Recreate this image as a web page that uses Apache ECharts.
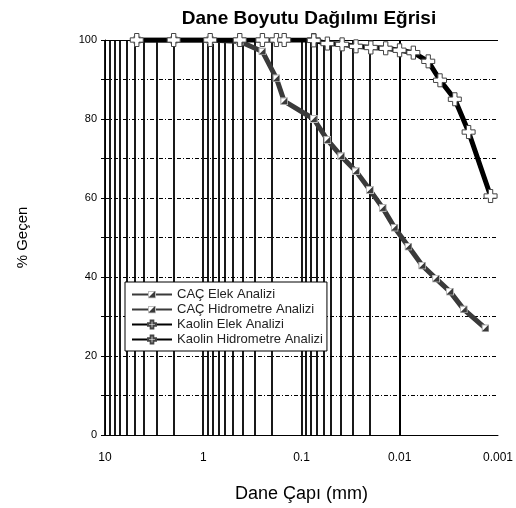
<!DOCTYPE html>
<html>
<head>
<meta charset="utf-8">
<script src="https://cdn.jsdelivr.net/npm/echarts@6/dist/echarts.min.js"></script>
<style>
  html, body { margin: 0; padding: 0; background: #fff; }
  #chart { width: 516px; height: 508px; }
</style>
</head>
<body>
<div id="chart"></div>
<script>
// Grain size distribution curves (particle diameter in mm, percent passing)
const cacSieveD   = [4.75, 2, 0.85, 0.425, 0.25, 0.18, 0.15, 0.075];
const cacSieveP   = [100, 100, 100, 99.6, 97.1, 90.3, 84.5, 80.0];
const cacHydroD   = [0.075, 0.0545, 0.0394, 0.0279, 0.0201, 0.0149, 0.0113, 0.00815, 0.0059, 0.00427, 0.00308, 0.00223, 0.00134];
const cacHydroP   = [80.0, 74.7, 70.6, 66.8, 62.0, 57.5, 52.5, 47.7, 42.9, 39.6, 36.3, 31.8, 27.0];
const kaoSieveD   = [4.75, 2, 0.85, 0.425, 0.25, 0.18, 0.15, 0.075];
const kaoSieveP   = [100, 100, 100, 100, 100, 100, 100, 100];
const kaoHydroD   = [0.075, 0.0545, 0.0386, 0.0279, 0.0197, 0.0139, 0.01005, 0.00727, 0.00513, 0.00389, 0.00275, 0.00199, 0.00119];
const kaoHydroP   = [99.9, 99.1, 98.9, 98.4, 98.1, 97.9, 97.4, 96.8, 94.6, 89.8, 85.0, 76.7, 60.5];

const seriesNames = ['CAÇ Elek Analizi', 'CAÇ Hidrometre Analizi', 'Kaolin Elek Analizi', 'Kaolin Hidrometre Analizi'];
const xTickLabels = ['10', '1', '0.1', '0.01', '0.001'];

// vertical log grid: 1..9 in every decade from 0.001 up to 10
const logGrid = [];
[0.001, 0.01, 0.1, 1].forEach(dec => {
  for (let m = 1; m <= 9; m++) logGrid.push(+(m * dec).toPrecision(3));
});
logGrid.push(10);

const zip = (xs, ys) => xs.map((x, i) => [x, ys[i]]);

const cacSymbol = 'image://data:image/svg+xml;utf8,' + encodeURIComponent(
  "<svg xmlns='http://www.w3.org/2000/svg' width='8' height='8'>" +
  "<rect x='0.5' y='0.5' width='7' height='7' fill='#3a3a3a' stroke='#bbb'/>" +
  "<polygon points='1,1 6.5,1 1,6.5' fill='#fff'/></svg>");
const crossSymbol = 'path://M-1,-3L1,-3L1,-1L3,-1L3,1L1,1L1,3L-1,3L-1,1L-3,1L-3,-1L-1,-1Z';

const FONT = 'Liberation Sans, Arial, sans-serif';
const chart = echarts.init(document.getElementById('chart'), null, { renderer: 'canvas' });

chart.setOption({
  animation: false,
  backgroundColor: '#fff',
  textStyle: { fontFamily: FONT },
  title: {
    text: 'Dane Boyutu Dağılımı Eğrisi',
    left: 304, top: 4, textAlign: 'center',
    textStyle: { fontSize: 19, fontWeight: 'bold', color: '#000', fontFamily: FONT }
  },
  grid: { left: 105, right: 13, top: 40, bottom: 71 },
  legend: {
    data: seriesNames,
    orient: 'vertical',
    left: 125, top: 282, z: 20,
    backgroundColor: '#fff',
    borderColor: '#000', borderWidth: 1, borderRadius: 0,
    padding: [5, 4, 4, 6],
    itemWidth: 40, itemHeight: 10, itemGap: 0,
    textStyle: { fontSize: 13, lineHeight: 15, color: '#222', fontFamily: FONT }
  },
  xAxis: {
    type: 'log', logBase: 10, min: 0.001, max: 10, inverse: true,
    name: 'Dane Çapı (mm)', nameLocation: 'middle', nameGap: 50,
    nameTextStyle: { fontSize: 18, color: '#000', fontFamily: FONT },
    axisLine: { show: true, lineStyle: { color: '#000', width: 1 } },
    axisTick: { show: false },
    splitLine: { show: false },
    axisLabel: {
      fontSize: 12, color: '#000', margin: 17,
      formatter: v => {
        const e = Math.round(Math.log10(v));
        return xTickLabels[1 - e] || '';
      }
    }
  },
  yAxis: {
    type: 'value', min: 0, max: 100, interval: 20,
    name: '% Geçen', nameLocation: 'middle', nameGap: 75,
    nameTextStyle: { fontSize: 15, color: '#000', fontFamily: FONT },
    axisLine: { show: true, lineStyle: { color: '#000', width: 1 } },
    axisTick: { show: true, length: 4, inside: false, lineStyle: { color: '#000' } },
    minorTick: { show: true, splitNumber: 2, length: 4, lineStyle: { color: '#000' } },
    axisLabel: { fontSize: 11, color: '#000', margin: 8 },
    splitLine: { show: true, lineStyle: { color: '#000', width: 1, type: [4, 2, 1, 2] } },
    minorSplitLine: { show: true, lineStyle: { color: '#000', width: 1, type: [4, 2, 1, 2] } }
  },
  series: [
    {
      name: 'grid', type: 'line', data: [], silent: true, z: 1,
      markLine: {
        silent: true, symbol: 'none', animation: false, z: 1,
        label: { show: false },
        lineStyle: { color: '#000', width: 1.8, type: 'solid' },
        data: logGrid.map(v => ({ xAxis: v }))
      }
    },
    {
      name: 'top', type: 'line', data: [], silent: true, z: 1,
      markLine: {
        silent: true, symbol: 'none', animation: false, z: 1,
        label: { show: false },
        lineStyle: { color: '#000', width: 1, type: 'solid' },
        data: [{ yAxis: 100 }]
      }
    },
    {
      name: seriesNames[0], type: 'line', z: 3,
      data: zip(cacSieveD, cacSieveP),
      symbol: cacSymbol, symbolSize: 8, showSymbol: true,
      lineStyle: { color: '#3a3a3a', width: 5 },
      itemStyle: { color: '#3a3a3a' }
    },
    {
      name: seriesNames[1], type: 'line', z: 3,
      data: zip(cacHydroD, cacHydroP),
      symbol: cacSymbol, symbolSize: 8, showSymbol: true,
      lineStyle: { color: '#3a3a3a', width: 5 },
      itemStyle: { color: '#3a3a3a' }
    },
    {
      name: seriesNames[2], type: 'line', z: 4,
      data: zip(kaoSieveD, kaoSieveP),
      symbol: crossSymbol, symbolSize: 13, showSymbol: true,
      lineStyle: { color: '#000', width: 5 },
      itemStyle: { color: '#fff', borderColor: '#444', borderWidth: 1 }
    },
    {
      name: seriesNames[3], type: 'line', z: 4,
      data: zip(kaoHydroD, kaoHydroP),
      symbol: crossSymbol, symbolSize: 13, showSymbol: true,
      lineStyle: { color: '#000', width: 5 },
      itemStyle: { color: '#fff', borderColor: '#444', borderWidth: 1 }
    }
  ]
});
</script>
</body>
</html>
